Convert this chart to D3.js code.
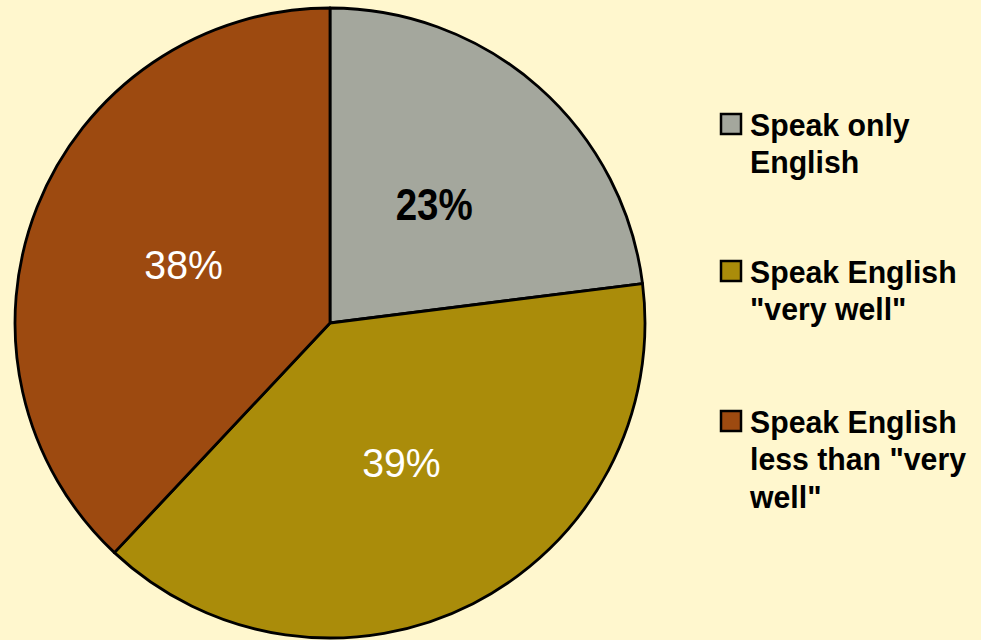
<!DOCTYPE html>
<html><head><meta charset="utf-8">
<script src="https://cdn.jsdelivr.net/npm/d3@7"></script>
<style>html,body{margin:0;padding:0;background:#FFF7CE;}svg{display:block;}</style>
</head><body>
<svg id="chart" width="981" height="640"></svg>
<script>
const categories = ["Speak only English", "Speak English \"very well\"", "Speak English less than \"very well\""];
const values = [23, 39, 38];
const labels = ["23%", "39%", "38%"];
const legendLines = [["Speak only", "English"], ["Speak English", "\"very well\""], ["Speak English", "less than \"very", "well\""]];
const colors = ["#A4A79D", "#AA8C0A", "#9D4A10"];
const labelColors = ["#000", "#fff", "#fff"];
const labelWeights = ["bold", "normal", "normal"];
const labelSizes = [44, 40, 40];
const labelScaleX = [0.875, 0.98, 0.98];

const svg = d3.select("#chart");
svg.append("rect").attr("width", 981).attr("height", 640).attr("fill", "#FFF7CE");
const cx = 330, cy = 323, r = 315;
const g = svg.append("g").attr("transform", `translate(${cx},${cy})`);
const pie = d3.pie().sort(null).value(d => d)(values);
const arc = d3.arc().innerRadius(0).outerRadius(r);
const labelArc = d3.arc().innerRadius(r * 0.5).outerRadius(r * 0.5);
g.selectAll("path").data(pie).join("path")
  .attr("d", arc).attr("fill", (d, i) => colors[i])
  .attr("stroke", "#000").attr("stroke-width", 2.8).attr("stroke-linejoin", "round");
g.selectAll("text.lbl").data(pie).join("text").attr("class", "lbl")
  .attr("transform", (d, i) => `translate(${labelArc.centroid(d)}) scale(${labelScaleX[i]},1)`)
  .attr("text-anchor", "middle").attr("dominant-baseline", "central")
  .attr("font-family", "Liberation Sans, Arial, sans-serif")
  .attr("font-size", (d, i) => labelSizes[i])
  .attr("font-weight", (d, i) => labelWeights[i])
  .attr("fill", (d, i) => labelColors[i])
  .text((d, i) => labels[i]);

const leg = svg.append("g");
const legY = [113, 260, 410];
categories.forEach((c, i) => {
  const e = leg.append("g").attr("transform", `translate(720,${legY[i]})`);
  e.append("rect").attr("x", 1).attr("y", 1).attr("width", 20).attr("height", 20)
    .attr("fill", colors[i]).attr("stroke", "#000").attr("stroke-width", 2.5);
  const t = e.append("text").attr("transform", "translate(30,0) scale(0.945,1)")
    .attr("font-family", "Liberation Sans, Arial, sans-serif")
    .attr("font-size", 32).attr("font-weight", "bold").attr("fill", "#000");
  legendLines[i].forEach((l, j) => {
    t.append("tspan").attr("x", 0).attr("y", 23 + j * 37.5).text(l);
  });
});
</script>
</body></html>
